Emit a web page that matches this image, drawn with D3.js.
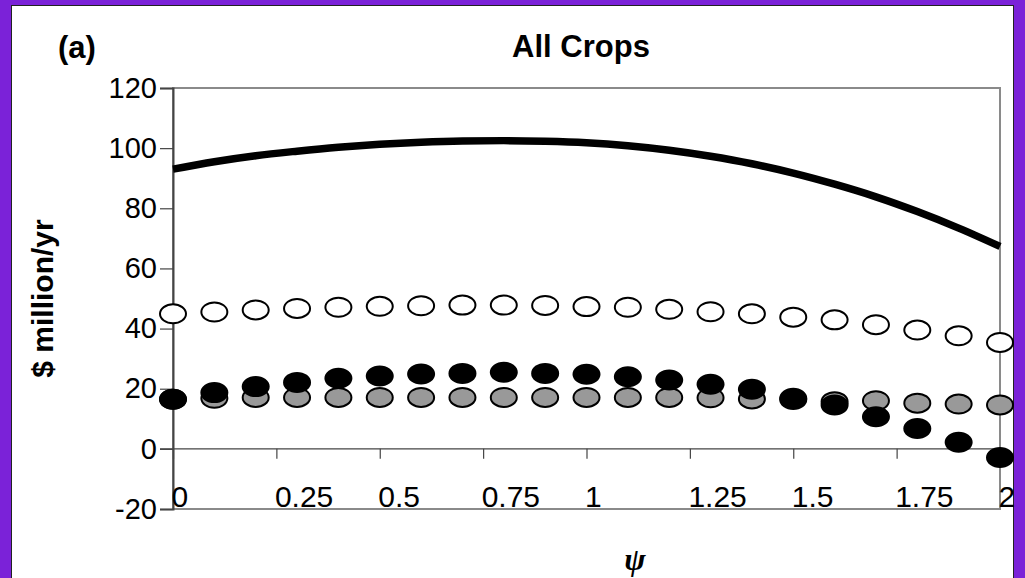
<!DOCTYPE html>
<html>
<head>
<meta charset="utf-8">
<script src="https://cdn.jsdelivr.net/npm/d3@7"></script>
<style>
  html, body { margin: 0; padding: 0; background: #7b22d8; }
  svg { display: block; }
</style>
</head>
<body>
<div id="chart"></div>
<script>
// psi values, one marker every 0.1
const psi = [0, 0.1, 0.2, 0.3, 0.4, 0.5, 0.6, 0.7, 0.8, 0.9, 1.0,
             1.1, 1.2, 1.3, 1.4, 1.5, 1.6, 1.7, 1.8, 1.9, 2.0];
// thick black line
const totalLine = [93.0, 95.5, 97.5, 99.0, 100.3, 101.3, 102.0, 102.4, 102.5, 102.3, 101.8,
                   100.8, 99.3, 97.3, 94.8, 91.7, 88.0, 83.8, 78.9, 73.4, 67.3];
// open circles
const openVals = [44.9, 45.5, 46.2, 46.7, 47.1, 47.4, 47.6, 47.8, 47.8, 47.7, 47.3,
                  47.1, 46.4, 45.6, 44.9, 43.8, 42.9, 41.3, 39.5, 37.6, 35.4];
// black circles
const blackVals = [16.5, 18.7, 20.7, 22.1, 23.5, 24.2, 24.9, 25.1, 25.5, 25.1, 24.8,
                   24.0, 22.9, 21.5, 19.8, 16.8, 14.6, 10.7, 6.8, 2.2, -2.9];
// grey circles
const greyVals = [16.5, 16.8, 17.1, 17.1, 17.1, 17.1, 17.1, 17.1, 17.1, 17.1, 17.1,
                  17.1, 17.1, 17.0, 16.6, 16.4, 15.7, 16.0, 15.2, 14.9, 14.6];
const xTicks = [0, 0.25, 0.5, 0.75, 1, 1.25, 1.5, 1.75, 2];
const xTickLabels = ["0", "0.25", "0.5", "0.75", "1", "1.25", "1.5", "1.75", "2"];
const yTicks = [-20, 0, 20, 40, 60, 80, 100, 120];

const width = 1025, height = 578;
const plot = {left: 173, right: 1000, top: 88, bottom: 509};

const svg = d3.select("#chart").append("svg")
  .attr("width", width)
  .attr("height", height);

// white panel on purple background
svg.append("rect")
  .attr("x", 11.5).attr("y", 5.5)
  .attr("width", 1002).attr("height", 600)
  .attr("fill", "#fff")
  .attr("stroke", "#222").attr("stroke-width", 1);

const x = d3.scaleLinear().domain([0, 2]).range([plot.left, plot.right]);
const y = d3.scaleLinear().domain([-20, 120]).range([plot.bottom, plot.top]);

// plot frame (top, right, bottom in grey)
svg.append("rect")
  .attr("x", plot.left).attr("y", plot.top)
  .attr("width", plot.right - plot.left).attr("height", plot.bottom - plot.top)
  .attr("fill", "none")
  .attr("stroke", "#8a8a8a").attr("stroke-width", 2);

// y axis
const yAxis = svg.append("g")
  .attr("transform", `translate(${plot.left},0)`)
  .call(d3.axisLeft(y).tickValues(yTicks).tickSize(13).tickPadding(3).tickFormat(d => String(d)));
yAxis.select(".domain").attr("stroke", "#444").attr("stroke-width", 2);
yAxis.selectAll(".tick line").attr("stroke", "#444").attr("stroke-width", 1.2);
yAxis.selectAll("text")
  .attr("font-family", "Liberation Sans, Arial, sans-serif")
  .attr("font-size", 29)
  .attr("fill", "#000");

// x axis sits on y = 0
const xAxis = svg.append("g")
  .attr("transform", `translate(0,${y(0)})`)
  .call(d3.axisBottom(x).tickValues(xTicks).tickSize(10).tickFormat((d, i) => xTickLabels[i]));
xAxis.select(".domain").attr("d", `M${plot.left - 13},0H${plot.right}`)
  .attr("stroke", "#444").attr("stroke-width", 1.2);
xAxis.selectAll(".tick line").attr("stroke", "#444").attr("stroke-width", 1.2);
xAxis.selectAll("text")
  .attr("font-family", "Liberation Sans, Arial, sans-serif")
  .attr("font-size", 30)
  .attr("fill", "#000")
  .attr("text-anchor", "start")
  .attr("x", -2)
  .attr("dy", null)
  .attr("y", plot.bottom - y(0) - 2);

// line
const line = d3.line()
  .x((d, i) => x(psi[i]))
  .y(d => y(d))
  .curve(d3.curveMonotoneX);
svg.append("path")
  .datum(totalLine)
  .attr("d", line)
  .attr("fill", "none")
  .attr("stroke", "#000")
  .attr("stroke-width", 7.5);

// markers
const drawMarkers = (vals, fill, cls) => {
  svg.selectAll("ellipse." + cls)
    .data(vals)
    .enter().append("ellipse")
    .attr("class", cls)
    .attr("cx", (d, i) => x(psi[i]))
    .attr("cy", d => y(d))
    .attr("rx", 13)
    .attr("ry", 9.5)
    .attr("fill", fill)
    .attr("stroke", "#000")
    .attr("stroke-width", 2);
};
drawMarkers(greyVals, "#999999", "grey");
drawMarkers(blackVals, "#000000", "black");
drawMarkers(openVals, "#ffffff", "open");

// texts
svg.append("text")
  .attr("x", 581).attr("y", 57)
  .attr("text-anchor", "middle")
  .attr("font-family", "Liberation Sans, Arial, sans-serif")
  .attr("font-weight", "bold")
  .attr("font-size", 31)
  .text("All Crops");

svg.append("text")
  .attr("x", 58).attr("y", 58)
  .attr("font-family", "Liberation Sans, Arial, sans-serif")
  .attr("font-weight", "bold")
  .attr("font-size", 31)
  .text("(a)");

svg.append("text")
  .attr("transform", `translate(53,${(plot.top + plot.bottom) / 2}) rotate(-90)`)
  .attr("text-anchor", "middle")
  .attr("font-family", "Liberation Sans, Arial, sans-serif")
  .attr("font-weight", "bold")
  .attr("font-size", 30)
  .text("$ million/yr");

svg.append("text")
  .attr("x", 635).attr("y", 570)
  .attr("text-anchor", "middle")
  .attr("font-family", "Liberation Serif, Times New Roman, serif")
  .attr("font-style", "italic")
  .attr("font-weight", "bold")
  .attr("font-size", 32)
  .text("ψ");
</script>
</body>
</html>
